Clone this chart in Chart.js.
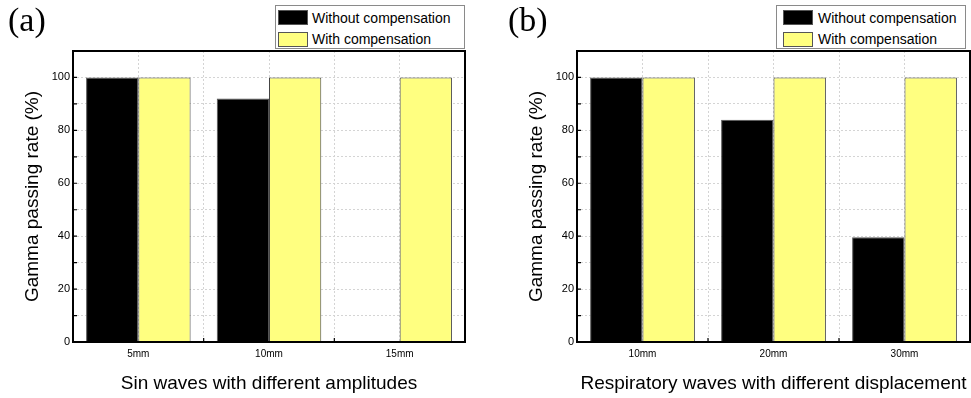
<!DOCTYPE html>
<html lang="en">
<head>
  <meta charset="UTF-8" />
  <title>Gamma passing rate</title>
  <script src="https://cdn.jsdelivr.net/npm/chart.js"></script>
  <style>
    body {
      margin: 0;
      background: #fff;
      font-family: 'Liberation Sans', Arial, sans-serif;
    }
    .page {
      position: relative;
      width: 971px;
      height: 398px;
      overflow: hidden;
    }
    .panel {
      position: absolute;
      top: 0;
      height: 398px;
    }
    .tag {
      position: absolute;
      top: 3px;
      font-family: 'Liberation Serif', 'Times New Roman', serif;
      font-size: 34px;
      line-height: 34px;
      z-index: 2;
    }
    .legend {
      position: absolute;
      top: 5px;
      width: 190px;
      height: 44px;
      box-sizing: border-box;
      border: 1px solid #8a8a8a;
      background: #fff;
      z-index: 2;
    }
    .legend .sw {
      position: absolute;
      width: 30px;
      height: 15px;
      box-sizing: border-box;
      border: 1px solid #555;
    }
    .legend .txt {
      position: absolute;
      font-size: 14px;
      line-height: 15px;
      color: #000;
      white-space: nowrap;
    }
  </style>
</head>
<body>
  <div class="page">
    <div class="panel" style="left:0; width:485px;"><canvas id="chartA"></canvas></div>
    <div class="panel" style="left:485px; width:486px;"><canvas id="chartB"></canvas></div>

    <div class="tag" style="left:8px;">(a)</div>
    <div class="tag" style="left:508px;">(b)</div>

    <div class="legend" style="left:275px;">
      <div class="sw" style="left:2px; top:4px; background:#000;"></div>
      <div class="txt" style="left:36px; top:5px;">Without compensation</div>
      <div class="sw" style="left:2px; top:26px; background:#ffff80;"></div>
      <div class="txt" style="left:36px; top:26px;">With compensation</div>
    </div>
    <div class="legend" style="left:776px;">
      <div class="sw" style="left:6px; top:4px; background:#000;"></div>
      <div class="txt" style="left:41px; top:5px;">Without compensation</div>
      <div class="sw" style="left:6px; top:26px; background:#ffff80;"></div>
      <div class="txt" style="left:41px; top:26px;">With compensation</div>
    </div>
  </div>

  <script>
    // datos
    const ampLabels = ['5mm', '10mm', '15mm'];
    const ampWithout = [100, 92, null];
    const ampWith = [100, 100, 100];

    const dispLabels = ['10mm', '20mm', '30mm'];
    const dispWithout = [100, 84, 39.6];
    const dispWith = [100, 100, 100];

    const seriesNames = ['Without compensation', 'With compensation'];
    const yMin = 0, yMax = 110, yStep = 10, yLabelEvery = 20;

    Chart.defaults.font.family = "'Liberation Sans', Arial, sans-serif";
    Chart.defaults.color = '#000';

    const gridColor = '#d4d4d4';

    // marco negro + marcas hacia dentro
    const framePlugin = {
      id: 'frame',
      afterDatasetsDraw(chart) {
        const { ctx, chartArea: a, scales } = chart;
        ctx.save();
        ctx.strokeStyle = '#000';
        ctx.lineWidth = 1.2;
        ctx.beginPath();
        scales.y.ticks.forEach(t => {
          const py = scales.y.getPixelForValue(t.value);
          ctx.moveTo(a.left, py);
          ctx.lineTo(a.left + 4, py);
        });
        const xs = scales.x;
        for (let i = 0; i < xs.ticks.length - 1; i++) {
          const px = (xs.getPixelForTick(i) + xs.getPixelForTick(i + 1)) / 2;
          ctx.moveTo(px, a.bottom);
          ctx.lineTo(px, a.bottom - 4);
        }
        ctx.stroke();
        ctx.lineWidth = 2;
        ctx.strokeRect(a.left, a.top, a.right - a.left, a.bottom - a.top);
        ctx.restore();
      }
    };

    function makeChart(id, labels, without, withComp, xTitle, padLeft, padRight) {
      const ctx = document.getElementById(id).getContext('2d');
      return new Chart(ctx, {
        type: 'bar',
        data: {
          labels: labels,
          datasets: [{
            label: seriesNames[0],
            data: without,
            backgroundColor: '#000000',
            borderColor: '#555555',
            borderWidth: 1,
            categoryPercentage: 0.8,
            barPercentage: 1.0
          }, {
            label: seriesNames[1],
            data: withComp,
            backgroundColor: '#ffff80',
            borderColor: '#444444',
            borderWidth: 1,
            categoryPercentage: 0.8,
            barPercentage: 1.0
          }]
        },
        options: {
          responsive: true,
          maintainAspectRatio: false,
          animation: false,
          layout: { padding: { left: padLeft, right: padRight, top: 51, bottom: 0 } },
          plugins: {
            legend: { display: false },
            tooltip: { enabled: false }
          },
          scales: {
            x: {
              type: 'category',
              position: 'bottom',
              grid: { color: gridColor, lineWidth: 1, drawTicks: false, offset: true },
              border: { display: false, dash: [2, 2] },
              ticks: { font: { size: 10 }, padding: 6, color: '#000' },
              title: {
                display: true,
                text: xTitle,
                font: { size: 19 },
                padding: { top: 0, bottom: 3 },
                color: '#000'
              },
              afterFit: s => { s.height = 56; }
            },
            xc: {
              type: 'category',
              labels: labels,
              position: 'top',
              offset: true,
              grid: { color: gridColor, lineWidth: 1, drawTicks: false, offset: false },
              border: { display: false, dash: [2, 2] },
              ticks: { display: false },
              afterFit: s => { s.height = 0; }
            },
            y: {
              min: yMin,
              max: yMax,
              grid: { color: gridColor, lineWidth: 1, drawTicks: false },
              border: { display: false, dash: [2, 2] },
              ticks: {
                stepSize: yStep,
                padding: 3,
                font: { size: 11 },
                color: '#000',
                callback: v => (v % yLabelEvery === 0 && v <= 100 ? v : '')
              },
              title: {
                display: true,
                text: 'Gamma passing rate (%)',
                font: { size: 19 },
                padding: { top: 21, bottom: 0 },
                color: '#000'
              },
              afterFit: s => { s.width = 73; }
            }
          }
        },
        plugins: [framePlugin]
      });
    }

    makeChart('chartA', ampLabels, ampWithout, ampWith,
      'Sin waves with different amplitudes', 0, 20);
    makeChart('chartB', dispLabels, dispWithout, dispWith,
      'Respiratory waves with different displacement', 19, 1);
  </script>
</body>
</html>
